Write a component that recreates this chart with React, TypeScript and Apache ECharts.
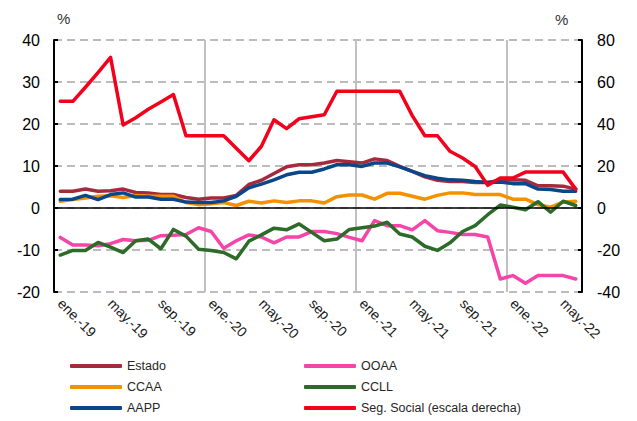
import React, { useEffect, useRef } from "react";
import * as echarts from "echarts";

const categories = [
  "ene.-19","feb.-19","mar.-19","abr.-19","may.-19","jun.-19","jul.-19","ago.-19","sep.-19","oct.-19","nov.-19","dic.-19",
  "ene.-20","feb.-20","mar.-20","abr.-20","may.-20","jun.-20","jul.-20","ago.-20","sep.-20","oct.-20","nov.-20","dic.-20",
  "ene.-21","feb.-21","mar.-21","abr.-21","may.-21","jun.-21","jul.-21","ago.-21","sep.-21","oct.-21","nov.-21","dic.-21",
  "ene.-22","feb.-22","mar.-22","abr.-22","may.-22","jun.-22",
];

const estado = [4.0,4.0,4.5,4.0,4.1,4.5,3.7,3.6,3.2,3.2,2.5,2.1,2.4,2.4,3.0,5.6,6.6,8.2,9.8,10.3,10.3,10.7,11.3,11.0,10.7,11.7,11.3,9.9,8.7,7.4,6.6,6.3,6.3,6.1,6.1,6.6,6.7,6.6,5.3,5.3,5.2,4.5];
const ccaa = [1.6,2.0,2.4,2.8,2.9,2.5,3.0,2.8,2.8,2.8,1.3,0.8,1.0,1.3,0.6,1.6,1.2,1.7,1.3,1.7,1.7,1.2,2.7,3.1,3.1,2.1,3.5,3.5,2.8,2.1,3.0,3.6,3.6,3.2,3.2,3.2,2.1,2.1,0.8,0.2,1.4,1.6];
const aapp = [2.0,2.1,3.0,2.0,3.2,3.6,2.6,2.6,2.1,2.1,1.4,1.3,1.3,1.7,2.8,4.8,5.7,6.7,7.9,8.5,8.5,9.3,10.3,10.3,9.9,10.7,10.7,9.8,8.7,7.7,7.1,6.7,6.6,6.3,6.1,6.2,5.8,5.8,4.5,4.4,4.0,4.0];
const ooaa = [-7.0,-8.8,-8.8,-9.0,-8.5,-7.5,-7.8,-7.7,-6.6,-6.5,-6.3,-4.7,-5.6,-9.6,-7.8,-6.4,-6.9,-8.3,-6.9,-6.9,-5.6,-5.6,-6.1,-7.0,-7.8,-3.0,-4.2,-4.2,-5.2,-3.0,-5.4,-5.8,-6.3,-6.3,-6.9,-16.9,-16.1,-17.9,-16.1,-16.1,-16.1,-16.9];
const ccll = [-11.2,-10.1,-10.1,-8.2,-9.3,-10.6,-7.8,-7.4,-9.7,-5.1,-6.7,-9.8,-10.1,-10.6,-12.1,-7.9,-6.4,-4.8,-5.2,-3.8,-5.8,-7.8,-7.4,-5.1,-4.7,-4.3,-3.4,-6.2,-6.9,-9.1,-10.1,-8.3,-5.6,-4.2,-1.6,0.7,0.2,-0.4,1.5,-1.0,1.6,0.6];
const segSocial = [50.8,50.8,57.5,64.5,71.7,39.5,43,47,50.5,54,34.4,34.4,34.4,34.4,28.5,22.5,29.4,42,37.8,42.5,43.5,44.4,55.6,55.6,55.6,55.6,55.6,55.6,44,34.4,34.4,27,23.8,19.8,10.8,14.3,14.3,17.1,17.1,17.1,17.1,9];

const leftTicks = { min: -20, max: 40, interval: 10 };
const rightTicks = { min: -40, max: 80, interval: 20 };

const REG = "'Liberation Sans', Arial, sans-serif";

export default function App() {
  const ref = useRef<HTMLDivElement>(null);
  useEffect(() => {
    if (!ref.current) return;
    const chart = echarts.init(ref.current, null, { renderer: "svg" });
    const lineSeries = (name: string, data: number[], color: string, yAxisIndex = 0, extra: any = {}) => ({
      name, type: "line", data, yAxisIndex, symbol: "none", smooth: false,
      lineStyle: { color, width: 3.5, cap: "round", join: "round" },
      itemStyle: { color },
      ...extra,
    });
    const legendText = { color: "#262626", fontSize: 12.5, fontFamily: REG, lineHeight: 14 };
    chart.setOption({
      animation: false,
      backgroundColor: "#ffffff",
      grid: { left: 54, right: 55, top: 40, bottom: 129 },
      xAxis: {
        type: "category",
        data: categories,
        boundaryGap: true,
        axisLine: { show: false },
        axisTick: { show: false },
        axisLabel: {
          interval: 3,
          rotate: -45,
          margin: 9,
          color: "#1a1a1a",
          fontSize: 14,
          fontFamily: REG,
        },
        splitLine: {
          show: true,
          interval: (idx: number) => idx > 0 && idx % 12 === 0,
          lineStyle: { color: "#c0c0c0", width: 2, type: "solid" },
        },
      },
      yAxis: [
        {
          type: "value",
          ...leftTicks,
          axisLine: { show: true, lineStyle: { color: "#000", width: 2 } },
          axisTick: { show: true, inside: true, length: 4, lineStyle: { color: "#000", width: 2 } },
          axisLabel: { color: "#000", fontSize: 16, fontFamily: REG, margin: 14 },
          splitLine: { show: true, lineStyle: { color: "#a6a6a6", width: 1.5, type: [8, 5] } },
        },
        {
          type: "value",
          ...rightTicks,
          position: "right",
          axisLine: { show: true, lineStyle: { color: "#000", width: 2 } },
          axisTick: { show: true, inside: true, length: 4, lineStyle: { color: "#000", width: 2 } },
          axisLabel: { color: "#000", fontSize: 16, fontFamily: REG, margin: 15 },
          splitLine: { show: false },
        },
      ],
      legend: [
        {
          orient: "vertical", left: 70, top: 359, height: 70, padding: 0, itemWidth: 52, itemHeight: 4, itemGap: 7, icon: "roundRect",
          data: ["Estado", "CCAA", "AAPP"],
          textStyle: legendText,
        },
        {
          orient: "vertical", left: 304, top: 359, height: 70, padding: 0, itemWidth: 52, itemHeight: 4, itemGap: 7, icon: "roundRect",
          data: ["OOAA", "CCLL", "Seg. Social (escala derecha)"],
          textStyle: legendText,
        },
      ],
      graphic: [
        { type: "text", left: 57, top: 11, style: { text: "%", fontSize: 15, fontFamily: REG, fill: "#333" } },
        { type: "text", left: 555, top: 12, style: { text: "%", fontSize: 15, fontFamily: REG, fill: "#333" } },
      ],
      series: [
        lineSeries("Estado", estado, "#A52A3C", 0, {
          markLine: {
            silent: true, symbol: "none", label: { show: false },
            lineStyle: { color: "#000", width: 1.5, type: "solid" },
            data: [{ yAxis: 0 }],
          },
        }),
        lineSeries("CCAA", ccaa, "#F39200"),
        lineSeries("OOAA", ooaa, "#F545A8"),
        lineSeries("CCLL", ccll, "#2C6B28"),
        lineSeries("AAPP", aapp, "#0A468A"),
        lineSeries("Seg. Social (escala derecha)", segSocial, "#F2001C", 1),
      ],
    });
    return () => chart.dispose();
  }, []);
  return <div ref={ref} style={{ position: "fixed", left: 0, top: 0, width: 637, height: 421 }} />;
}
